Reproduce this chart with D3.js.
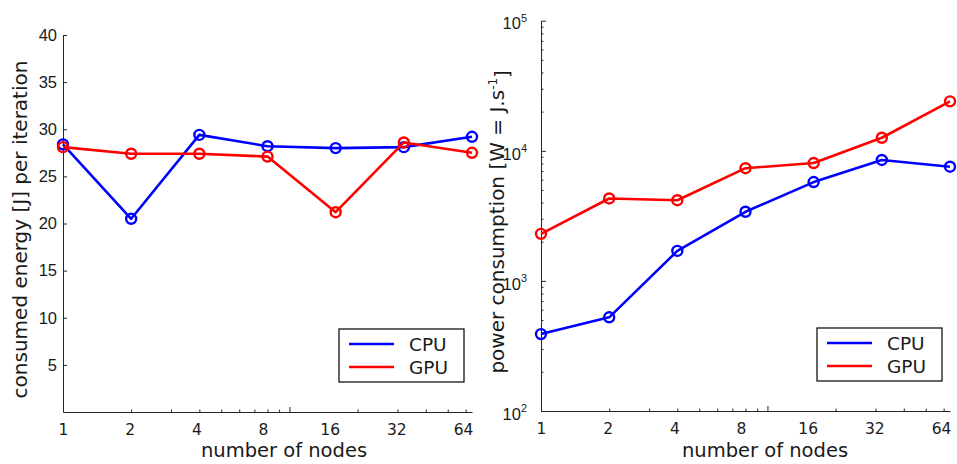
<!DOCTYPE html>
<html>
<head>
<meta charset="utf-8">
<script src="https://cdn.jsdelivr.net/npm/d3@7"></script>
<style>
  body { margin: 0; background: #fff; }
  svg { display: block; }
  .axis path, .axis line { stroke: #262626; }
  .axis text { fill: #1a1a1a; }
</style>
</head>
<body>
<svg width="957" height="464"></svg>
<script>
"use strict";

const nodes = [1, 2, 4, 8, 16, 32, 64];
const series = ["CPU", "GPU"];
const colors = ["#0000ff", "#ff0000"];

// consumed energy per iteration [J]
const energyCPU = [28.4, 20.5, 29.4, 28.2, 28.0, 28.1, 29.2];
const energyGPU = [28.1, 27.4, 27.4, 27.1, 21.2, 28.6, 27.5];

// power consumption [W]
const powerCPU = [390, 525, 1700, 3400, 5750, 8500, 7550];
const powerGPU = [2300, 4300, 4170, 7350, 8050, 12600, 24000];

const energyTicks = [5, 10, 15, 20, 25, 30, 35, 40];
const powerTicks = [1e2, 1e3, 1e4, 1e5];

const svg = d3.select("svg");

const minorLog = (lo, hi) => {
  const out = [];
  for (let p = lo; p < hi; p *= 10)
    for (let m = 2; m <= 9; m++) out.push(p * m);
  return out;
};

const drawPanel = (opts) => {
  const { left, right, top, bottom, yScale, values, yLabel, legend, xLabelX, yLabelX } = opts;

  const x = d3.scaleLog().domain([1, 64]).range([left, right]);
  const y = yScale.range([bottom, top]);

  const g = svg.append("g");

  // x axis: log minor ticks, labels at node counts
  const xMinor = d3.axisBottom(x)
    .tickValues(minorLog(1, 100).filter(d => d < 64))
    .tickSize(-2.5)
    .tickSizeOuter(0)
    .tickFormat("");
  const xMajor = d3.axisBottom(x)
    .tickValues([1, 10])
    .tickSize(-5)
    .tickSizeOuter(0)
    .tickFormat("");
  g.append("g").attr("class", "axis").attr("transform", `translate(0,${bottom})`).call(xMinor);
  g.append("g").attr("class", "axis").attr("transform", `translate(0,${bottom})`).call(xMajor)
    .select(".domain").remove();

  const xLabels = g.append("g").attr("class", "axis")
    .attr("transform", `translate(0,${bottom})`)
    .call(d3.axisBottom(x).tickValues(nodes).tickSize(0).tickPadding(12).tickFormat(d3.format("d")));
  xLabels.select(".domain").remove();
  xLabels.selectAll("text")
    .attr("font-family", "DejaVu Sans, Verdana, sans-serif")
    .attr("font-size", 15.5)
    .attr("dx", (d, i) => -1.5 * i);

  g.append("text")
    .attr("x", xLabelX)
    .attr("y", 457)
    .attr("text-anchor", "middle")
    .attr("font-family", "DejaVu Sans, Verdana, sans-serif")
    .attr("font-size", 19.5)
    .attr("fill", "#1a1a1a")
    .text("number of nodes");

  // y axis
  const yAxisG = g.append("g").attr("class", "axis")
    .attr("transform", `translate(${left},0)`);
  opts.yAxis(yAxisG, y);

  yLabel(g.append("text")
    .attr("transform", `translate(${yLabelX},${(top + bottom) / 2 + 6}) rotate(-90)`)
    .attr("text-anchor", "middle")
    .attr("font-family", "DejaVu Sans, Verdana, sans-serif")
    .attr("font-size", 20)
    .attr("fill", "#1a1a1a"));

  // lines + circle markers
  const line = d3.line().x((d, i) => x(nodes[i])).y(d => y(d));
  values.forEach((vals, k) => {
    g.append("path")
      .datum(vals)
      .attr("fill", "none")
      .attr("stroke", colors[k])
      .attr("stroke-width", 2.6)
      .attr("stroke-linejoin", "round")
      .attr("d", line);
    g.selectAll(null)
      .data(vals)
      .enter()
      .append("circle")
      .attr("cx", (d, i) => x(nodes[i]))
      .attr("cy", d => y(d))
      .attr("r", 5)
      .attr("fill", "none")
      .attr("stroke", colors[k])
      .attr("stroke-width", 2.4);
  });

  // legend
  const lg = g.append("g").attr("transform", `translate(${legend.x},${legend.y})`);
  lg.append("rect")
    .attr("width", 125)
    .attr("height", 53)
    .attr("fill", "#fff")
    .attr("stroke", "#000")
    .attr("stroke-width", 1.2);
  series.forEach((s, k) => {
    lg.append("line")
      .attr("x1", 10).attr("x2", 55)
      .attr("y1", 15 + k * 23).attr("y2", 15 + k * 23)
      .attr("stroke", colors[k])
      .attr("stroke-width", 2.6);
    lg.append("text")
      .attr("x", 70)
      .attr("y", 22 + k * 23)
      .attr("font-family", "DejaVu Sans, Verdana, sans-serif")
      .attr("font-size", 18.5)
      .attr("fill", "#1a1a1a")
      .text(s);
  });
};

// left: energy
drawPanel({
  left: 63, right: 472, top: 35, bottom: 412,
  xLabelX: 284, yLabelX: 27,
  yScale: d3.scaleLinear().domain([0, 40]),
  values: [energyCPU, energyGPU],
  legend: { x: 339, y: 329 },
  yAxis: (sel, y) => {
    sel.call(d3.axisLeft(y).tickValues(energyTicks).tickSize(-4).tickSizeOuter(0).tickPadding(6));
    sel.selectAll("text")
      .attr("font-family", "Liberation Sans, Arial, sans-serif")
      .attr("font-size", 16.5);
  },
  yLabel: t => t.text("consumed energy [J] per iteration")
});

// right: power
drawPanel({
  left: 541, right: 950, top: 20.7, bottom: 411,
  xLabelX: 765, yLabelX: 504,
  yScale: d3.scaleLog().domain([1e2, 1e5]),
  values: [powerCPU, powerGPU],
  legend: { x: 817, y: 328 },
  yAxis: (sel, y) => {
    sel.call(d3.axisLeft(y).tickValues(minorLog(1e2, 1e5)).tickSize(-2.5).tickSizeOuter(0).tickFormat(""));
    const major = sel.append("g")
      .call(d3.axisLeft(y).tickValues(powerTicks).tickSize(-5).tickSizeOuter(0).tickPadding(14));
    major.select(".domain").remove();
    const txt = major.selectAll(".tick text")
      .attr("font-family", "Liberation Sans, Arial, sans-serif")
      .attr("font-size", 16.5)
      .attr("dy", "0.5em")
      .text(null);
    txt.append("tspan").text("10");
    txt.append("tspan")
      .attr("dy", "-0.7em")
      .attr("font-size", 11)
      .text(d => Math.round(Math.log10(d)));
  },
  yLabel: t => {
    t.append("tspan").text("power consumption [W = J.s");
    t.append("tspan").attr("dy", "-0.6em").attr("font-size", 12).text("-1");
    t.append("tspan").attr("dy", "0.6em").text("]");
  }
});
</script>
</body>
</html>
